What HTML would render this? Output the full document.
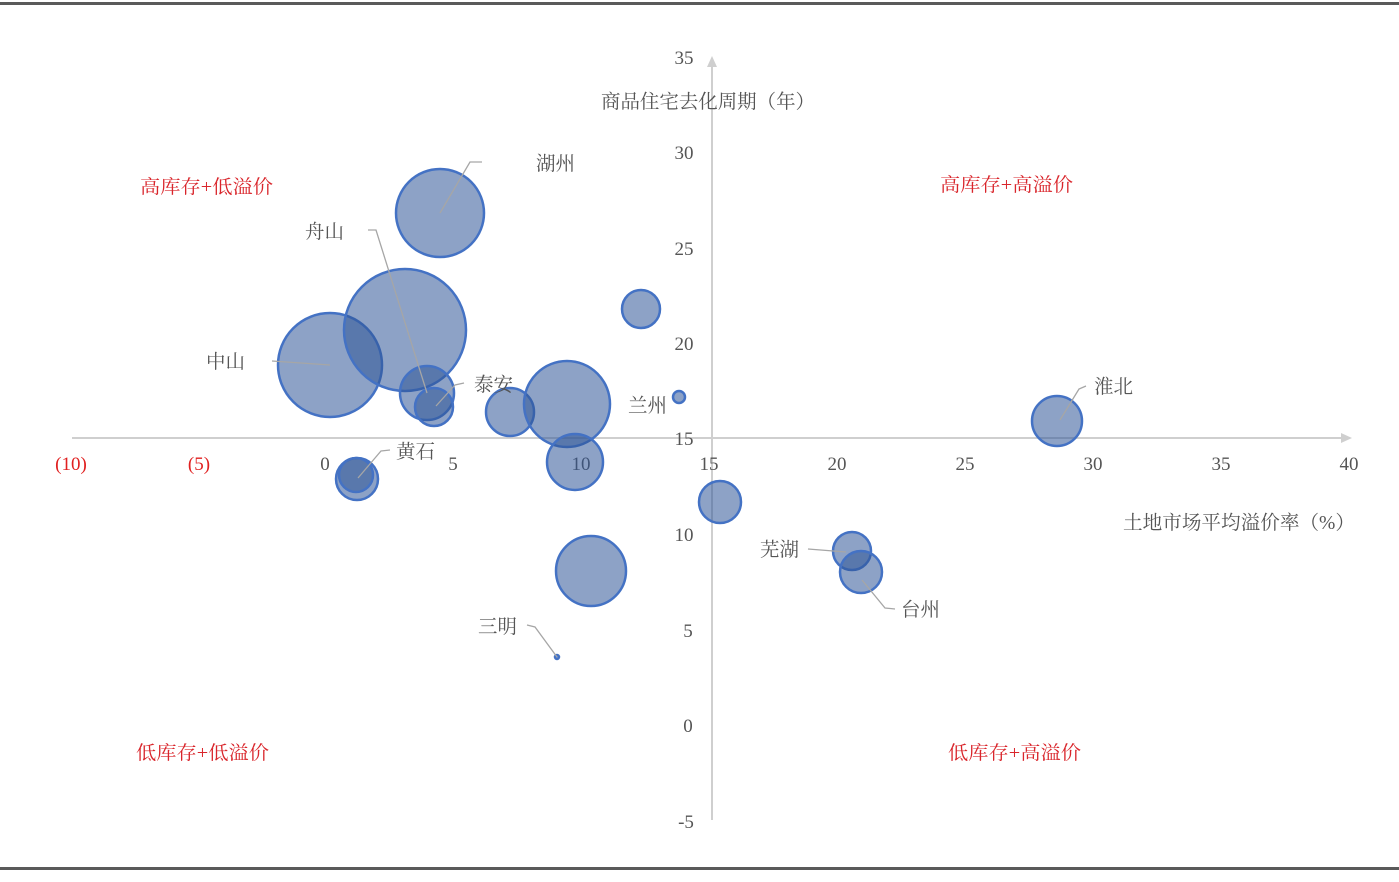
<!DOCTYPE html>
<html><head><meta charset="utf-8"><style>
html,body{margin:0;padding:0;background:#fff;}
svg{display:block;}
text{font-family:"Liberation Serif","Noto Serif CJK SC",serif;}
</style></head><body>
<svg width="1399" height="882" viewBox="0 0 1399 882" xmlns="http://www.w3.org/2000/svg">
<rect x="0" y="0" width="1399" height="882" fill="#fff"/>
<!-- frame lines -->
<rect x="0" y="2" width="1399" height="3" fill="#5a5a5a"/>
<rect x="0" y="867" width="1399" height="3" fill="#5a5a5a"/>

<!-- axes -->
<line x1="72" y1="438" x2="1342" y2="438" stroke="#cfcfcf" stroke-width="2"/>
<polygon points="1352,438 1341,433 1341,443" fill="#cfcfcf"/>
<line x1="712" y1="820" x2="712" y2="66" stroke="#cfcfcf" stroke-width="2"/>
<polygon points="712,56 707,67 717,67" fill="#cfcfcf"/>

<!-- y tick labels -->
<g font-size="19" fill="#555" text-anchor="middle">
<text x="684" y="64">35</text>
<text x="684" y="159">30</text>
<text x="684" y="255">25</text>
<text x="684" y="350">20</text>
<text x="684" y="445">15</text>
<text x="684" y="541">10</text>
<text x="688" y="637">5</text>
<text x="688" y="732">0</text>
<text x="686" y="828">-5</text>
</g>
<!-- x tick labels -->
<g font-size="19" fill="#555" text-anchor="middle">
<text x="71" y="470" fill="#e02020">(10)</text>
<text x="199" y="470" fill="#e02020">(5)</text>
<text x="325" y="470">0</text>
<text x="453" y="470">5</text>
<text x="581" y="470">10</text>
<text x="709" y="470">15</text>
<text x="837" y="470">20</text>
<text x="965" y="470">25</text>
<text x="1093" y="470">30</text>
<text x="1221" y="470">35</text>
<text x="1349" y="470">40</text>
</g>

<!-- axis titles -->
<text x="601" y="108" font-size="19.5" fill="#555" textLength="214" lengthAdjust="spacingAndGlyphs">商品住宅去化周期（年）</text>
<text x="1123" y="529" font-size="19.5" fill="#555" textLength="232" lengthAdjust="spacingAndGlyphs">土地市场平均溢价率（%）</text>

<!-- quadrant labels -->
<g font-size="19" fill="#d9252b">
<text x="140" y="193" textLength="133" lengthAdjust="spacingAndGlyphs">高库存+低溢价</text>
<text x="940" y="191" textLength="133" lengthAdjust="spacingAndGlyphs">高库存+高溢价</text>
<text x="136" y="759" textLength="133" lengthAdjust="spacingAndGlyphs">低库存+低溢价</text>
<text x="948" y="759" textLength="133" lengthAdjust="spacingAndGlyphs">低库存+高溢价</text>
</g>

<!-- bubbles -->
<g fill="#2f5597" fill-opacity="0.55" stroke="#4472c4" stroke-width="2.5">
<circle cx="440" cy="213" r="44"/>
<circle cx="330" cy="365" r="52"/>
<circle cx="405" cy="330" r="61"/>
<circle cx="427" cy="393" r="27"/>
<circle cx="434" cy="407" r="19"/>
<circle cx="510" cy="412" r="24"/>
<circle cx="567" cy="404" r="43"/>
<circle cx="575" cy="462" r="28"/>
<circle cx="641" cy="309" r="19"/>
<circle cx="679" cy="397" r="6"/>
<circle cx="1057" cy="421" r="25"/>
<circle cx="720" cy="502" r="21"/>
<circle cx="591" cy="571" r="35"/>
<circle cx="852" cy="551" r="19"/>
<circle cx="861" cy="572" r="21"/>
<circle cx="357" cy="479" r="21"/>
<circle cx="356" cy="475" r="17"/>
<circle cx="557" cy="657" r="2"/>
</g>

<!-- leader lines -->
<g stroke="#a6a6a6" stroke-width="1.3" fill="none">
<polyline points="440,213 470,162 482,162"/>
<polyline points="368,230 376,230 427,393"/>
<polyline points="272,361 330,365"/>
<polyline points="464,383 455,385 436,406"/>
<polyline points="390,450 381,451 358,478"/>
<polyline points="527,625 535,627 557,657"/>
<polyline points="1086,386 1079,389 1060,420"/>
<polyline points="808,549 846,552"/>
<polyline points="895,609 885,608 862,580"/>
</g>

<!-- city labels -->
<g font-size="19.5" fill="#555">
<text x="536" y="170">湖州</text>
<text x="305" y="238">舟山</text>
<text x="206" y="368">中山</text>
<text x="474" y="391">泰安</text>
<text x="628" y="412">兰州</text>
<text x="396" y="458">黄石</text>
<text x="478" y="633">三明</text>
<text x="1094" y="393">淮北</text>
<text x="760" y="556">芜湖</text>
<text x="901" y="616">台州</text>
</g>
</svg>
</body></html>
